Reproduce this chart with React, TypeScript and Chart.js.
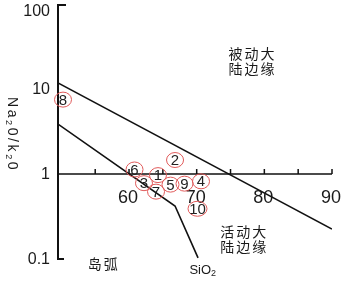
import React, { useEffect, useRef } from "react";
import { Chart, registerables } from "chart.js";

Chart.register(...registerables);

// ---- data ----
const xMin = 49.5;
const xMax = 90;
const yMin = 0.1;
const yMax = 100;
const xTickValues = [55, 60, 65, 70, 75, 80, 85, 90];
const xTickLabels = [60, 70, 80, 90];
const yTickLabels = [100, 10, 1, 0.1];

const passiveBoundary = [
  { x: 49.5, y: 11.8 },
  { x: 90, y: 0.225 },
];
const arcBoundary = [
  { x: 49.5, y: 3.87 },
  { x: 66.8, y: 0.42 },
  { x: 70.2, y: 0.103 },
];

const sampleIds = ["1", "2", "3", "4", "5", "6", "7", "8", "9", "10"];
const sampleSiO2 = [64.28, 66.8, 62.21, 70.64, 66.13, 60.81, 63.99, 50.24, 68.2, 70.12];
const sampleRatio = [0.97, 1.46, 0.78, 0.82, 0.75, 1.13, 0.62, 7.5, 0.77, 0.39];

const fieldLabels = [
  { lines: ["被动大", "陆边缘"], x: 78.1, y: 21.3 },
  { lines: ["活动大", "陆边缘"], x: 76.9, y: 0.172 },
  { lines: ["岛弧"], x: 56.1, y: 0.0873 },
];
const xAxisName = { main: "SiO", sub: "2", x: 70.9, y: 0.0743 };

const LATIN = "'Liberation Sans', Arial, sans-serif";
const CJK = "'Noto Sans CJK SC', sans-serif";

const overlayPlugin = {
  id: "overlay",
  afterDatasetsDraw(chart: any) {
    const { ctx } = chart;
    const xs = chart.scales.x;
    const ys = chart.scales.y;
    const X = (v: number) => xs.getPixelForValue(v);
    const Y = (v: number) => ys.getPixelForValue(v);
    ctx.save();

    // y axis
    const ax = X(xMin);
    ctx.strokeStyle = "#111";
    ctx.lineWidth = 2;
    ctx.beginPath();
    ctx.moveTo(ax + 8, Y(yMax) + 1);
    ctx.lineTo(ax, Y(yMax) + 1);
    ctx.lineTo(ax, Y(yMin));
    ctx.lineTo(ax + 6, Y(yMin));
    ctx.stroke();

    // x axis at y = 1
    const ay = Y(1);
    ctx.lineWidth = 1.5;
    ctx.beginPath();
    ctx.moveTo(ax, ay);
    ctx.lineTo(X(xMax), ay);
    for (const v of xTickValues) {
      ctx.moveTo(X(v), ay);
      ctx.lineTo(X(v), ay - 5);
    }
    ctx.stroke();

    // x tick labels
    ctx.fillStyle = "#1a1a1a";
    ctx.font = `18px ${LATIN}`;
    ctx.textAlign = "center";
    ctx.textBaseline = "middle";
    for (const v of xTickLabels) {
      ctx.fillText(String(v), X(v) - 1, ay + 24);
    }

    // y tick labels
    ctx.font = `16px ${LATIN}`;
    ctx.textAlign = "right";
    for (const v of yTickLabels) {
      const py = Math.max(Y(v), 11);
      ctx.fillText(String(v), ax - 8, py + 1);
    }

    // y axis title, rotated clockwise
    ctx.save();
    ctx.translate(12, 97);
    ctx.rotate(Math.PI / 2);
    ctx.textAlign = "left";
    ctx.textBaseline = "middle";
    const parts: [string, boolean][] = [
      ["N", false], ["a", false], ["2", true], ["0", false], ["/", false],
      ["k", false], ["2", true], ["0", false],
    ];
    let cx = 0;
    for (const [t, sub] of parts) {
      ctx.font = sub ? `9px ${LATIN}` : `14px ${LATIN}`;
      ctx.fillText(t, cx, sub ? 4 : 0);
      cx += ctx.measureText(t).width + 2.6;
    }
    ctx.restore();

    // field labels
    ctx.fillStyle = "#1a1a1a";
    ctx.font = `14px ${CJK}`;
    ctx.textAlign = "center";
    ctx.textBaseline = "middle";
    (ctx as any).letterSpacing = "2px";
    for (const f of fieldLabels) {
      const px = X(f.x);
      const py = Y(f.y);
      const lh = 15;
      const n = f.lines.length;
      f.lines.forEach((line, i) => {
        ctx.fillText(line, px + 1, py + (i - (n - 1) / 2) * lh);
      });
    }
    (ctx as any).letterSpacing = "0px";

    // SiO2 label
    {
      const px = X(xAxisName.x);
      const py = Y(xAxisName.y);
      ctx.font = `13px ${LATIN}`;
      ctx.textAlign = "left";
      const w1 = ctx.measureText(xAxisName.main).width;
      ctx.font = `9px ${LATIN}`;
      const w2 = ctx.measureText(xAxisName.sub).width;
      const start = px - (w1 + w2) / 2;
      ctx.font = `13px ${LATIN}`;
      ctx.fillText(xAxisName.main, start, py);
      ctx.font = `9px ${LATIN}`;
      ctx.fillText(xAxisName.sub, start + w1, py + 4);
    }

    // samples: red circles with numbers
    const meta = chart.getDatasetMeta(2);
    meta.data.forEach((pt: any, i: number) => {
      const id = sampleIds[i];
      const rx = id.length > 1 ? 9.5 : 8.5;
      const ry = 7.5;
      ctx.beginPath();
      ctx.ellipse(pt.x, pt.y, rx, ry, 0, 0, Math.PI * 2);
      ctx.strokeStyle = "#e05a5a";
      ctx.lineWidth = 1;
      ctx.stroke();
      ctx.fillStyle = "#222";
      ctx.font = `15px ${LATIN}`;
      ctx.textAlign = "center";
      ctx.textBaseline = "middle";
      ctx.fillText(id, pt.x, pt.y + 1);
    });

    ctx.restore();
  },
};

export default function App() {
  const ref = useRef<HTMLCanvasElement | null>(null);

  useEffect(() => {
    document.body.style.margin = "0";
    if (!ref.current) return;
    const chart = new Chart(ref.current, {
      type: "scatter",
      data: {
        datasets: [
          {
            type: "line",
            data: passiveBoundary,
            borderColor: "#111",
            borderWidth: 1.6,
            pointRadius: 0,
            fill: false,
          } as any,
          {
            type: "line",
            data: arcBoundary,
            borderColor: "#111",
            borderWidth: 1.6,
            pointRadius: 0,
            fill: false,
          } as any,
          {
            type: "scatter",
            data: sampleSiO2.map((x, i) => ({ x, y: sampleRatio[i] })),
            pointRadius: 0,
          },
        ],
      },
      options: {
        animation: false,
        responsive: false,
        layout: { padding: { left: 58, right: 13, top: 4, bottom: 24 } },
        plugins: {
          legend: { display: false },
          tooltip: { enabled: false },
        },
        scales: {
          x: { type: "linear", min: xMin, max: xMax, display: false },
          y: { type: "logarithmic", min: yMin, max: yMax, display: false },
        },
      },
      plugins: [overlayPlugin],
    });
    return () => chart.destroy();
  }, []);

  return (
    <canvas
      ref={ref}
      width={345}
      height={283}
      style={{ display: "block", width: 345, height: 283 }}
    />
  );
}
